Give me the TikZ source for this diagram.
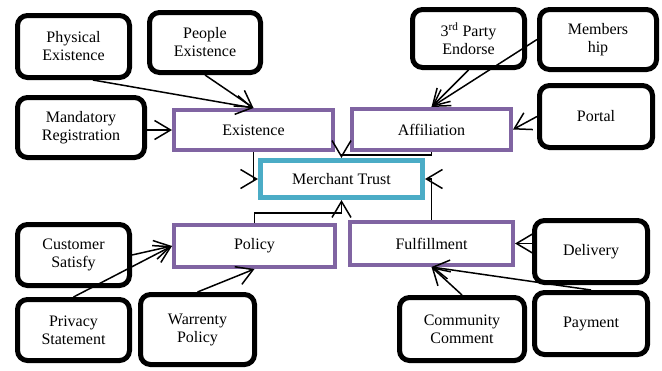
\documentclass[tikz,border=0pt]{standalone}
\usepackage{fontspec}
\setmainfont{Liberation Serif}
\usetikzlibrary{arrows.meta}

\definecolor{catpurple}{HTML}{8064A2}
\definecolor{trustblue}{HTML}{4BACC6}

\begin{document}
\begin{tikzpicture}[x=1pt, y=-1pt,
	leaf/.style={draw, line width=5pt, rounded corners=10pt, align=center, font=\fontsize{16}{18}\selectfont, inner sep=0pt},
	cat/.style={draw=catpurple, line width=4pt, align=center, font=\fontsize{16}{18}\selectfont, inner sep=0pt},
	trust/.style={draw=trustblue, line width=5pt, align=center, font=\fontsize{16}{18}\selectfont, inner sep=0pt},
	arr/.style={line width=1.5pt, -{Straight Barb[length=16pt, width=19pt]}}]

		\useasboundingbox (0,0) rectangle (662,370);

		% centre
		\node[trust, minimum width=162pt, minimum height=37pt] (mtrust) at (341.5,179) {Merchant Trust};

		\node[cat, minimum width=159pt, minimum height=40pt] (exist) at (253.5,130) {Existence};
		\node[cat, minimum width=159pt, minimum height=41pt] (affil) at (431.5,129.5) {Affiliation};
		\node[cat, minimum width=161pt, minimum height=42pt] (policy) at (254.5,246) {Policy};
		\node[cat, minimum width=163pt, minimum height=43pt] (fulfil) at (431.5,243.5) {Fulfillment};

		% existence
		\node[leaf, minimum width=112pt, minimum height=62pt] (phys) at (73.5,46.5) {Physical\\Existence};
		\node[leaf, minimum width=111pt, minimum height=60pt] (people) at (205,42.5) {People\\Existence};
		\node[leaf, minimum width=127pt, minimum height=60pt] (mand) at (81,127.5) {Mandatory\\Registration};

		% affiliation
		\node[leaf, minimum width=112pt, minimum height=58pt] (endorse) at (468.5,38.5) {3\textsuperscript{rd} Party\\Endorse};
		\node[leaf, minimum width=117pt, minimum height=60pt] (member) at (598,39.5) {Members\\hip};
		\node[leaf, minimum width=113pt, minimum height=62pt] (portal) at (596,116.5) {Portal};

		% policy
		\node[leaf, minimum width=112pt, minimum height=61pt] (cust) at (73.5,255) {Customer\\Satisfy};
		\node[leaf, minimum width=112pt, minimum height=61pt] (privacy) at (73.5,330) {Privacy\\Statement};
		\node[leaf, minimum width=114pt, minimum height=70pt] (warr) at (197.5,329.5) {Warrenty\\Policy};

		% fulfillment
		\node[leaf, minimum width=113pt, minimum height=62pt] (deliv) at (591,251.5) {Delivery};
		\node[leaf, minimum width=113pt, minimum height=62pt] (pay) at (591,323.5) {Payment};
		\node[leaf, minimum width=125pt, minimum height=63pt] (comm) at (462,329) {Community\\Comment};

		\draw[arr] (phys.-60) -- (exist.north);
		\draw[arr] (people.south) -- (exist.north);
		\draw[arr] (mand.east |- exist.west) -- (exist.west);

		\draw[arr] (endorse.south) -- (affil.north);
		\draw[arr] (member.west) -- (affil.north);
		\draw[arr] (portal.west) -- (affil.east);

		\draw[arr] (cust.east) -- (policy.west);
		\draw[arr] (privacy.north) -- (policy.west);
		\draw[arr] (warr.north) -- (policy.south);

		\draw[arr] (deliv.west |- fulfil.east) -- (fulfil.east);
		\draw[arr] (pay.north) -- (fulfil.south);
		\draw[arr] (comm.north) -- (fulfil.south);

		\draw[arr] (exist.south) |- (mtrust.west);
		\draw[arr] (affil.south) -- ++(0,3) -| (mtrust.north);
		\draw[arr] (policy.north) -- ++(0,-10) -| (mtrust.south);
		\draw[arr] (fulfil.north) |- (mtrust.east);

\end{tikzpicture}
\end{document}
